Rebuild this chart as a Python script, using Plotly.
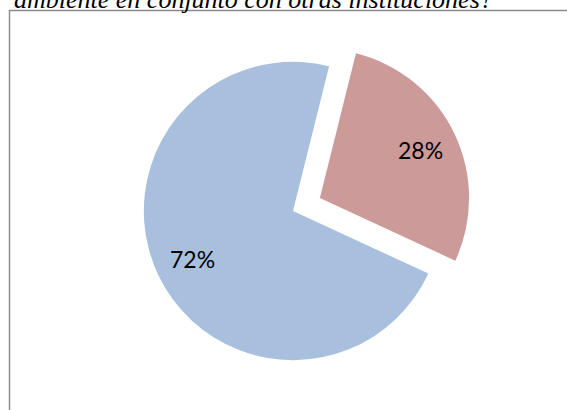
import math
import plotly.graph_objects as go

labels = ["Sí", "No"]
values = [28, 72]
colors = ["#CC9A99", "#A8C0DE"]
pulls = [0.2, 0]
title_text = "ambiente en conjunto con otras instituciones?"

W, H = 567, 410
cx, cy = 293, 211
half = 179
rotation = 14

fig = go.Figure(go.Pie(
    labels=labels, values=values, sort=False, direction="clockwise",
    rotation=rotation, pull=pulls,
    marker=dict(colors=colors, line=dict(width=0)),
    textinfo="none", textposition="none",
    showlegend=False, hoverinfo="skip",
    domain=dict(x=[(cx - half) / W, (cx + half) / W],
                y=[(H - cy - half) / H, (H - cy + half) / H]),
))

# percentage labels placed along each slice's mid-angle
r = 2 * half / (2 + 2 * max(pulls))
total = sum(values)
start = rotation
for v, p in zip(values, pulls):
    mid = math.radians(start + 360 * v / total / 2)
    dist = (p + 0.75) * r
    px = cx + dist * math.sin(mid)
    py = cy - dist * math.cos(mid)
    fig.add_annotation(text=f"{round(100 * v / total)}%", xref="paper", yref="paper",
                       x=px / W, y=1 - py / H, showarrow=False,
                       xanchor="center", yanchor="middle",
                       font=dict(family="Lato, Carlito, Calibri, sans-serif", size=23, color="black"))
    start += 360 * v / total

fig.add_shape(type="rect", xref="paper", yref="paper",
              x0=9.5 / W, x1=1.05, y0=-0.05, y1=1 - 10.5 / H,
              line=dict(color="#8c8c8c", width=1.5), fillcolor="rgba(0,0,0,0)")

fig.add_annotation(text=title_text, xref="paper", yref="paper", x=12 / W, y=1,
                   xanchor="left", yanchor="bottom", yshift=-16, showarrow=False,
                   font=dict(family="Liberation Serif", size=26, color="black", style="italic"))

fig.update_layout(width=W, height=H, margin=dict(l=0, r=0, t=0, b=0),
                  paper_bgcolor="white", plot_bgcolor="white")

fig.write_html("out.html", config={"displayModeBar": False},
               post_script="document.body.style.margin='0';document.body.style.overflow='hidden';")
